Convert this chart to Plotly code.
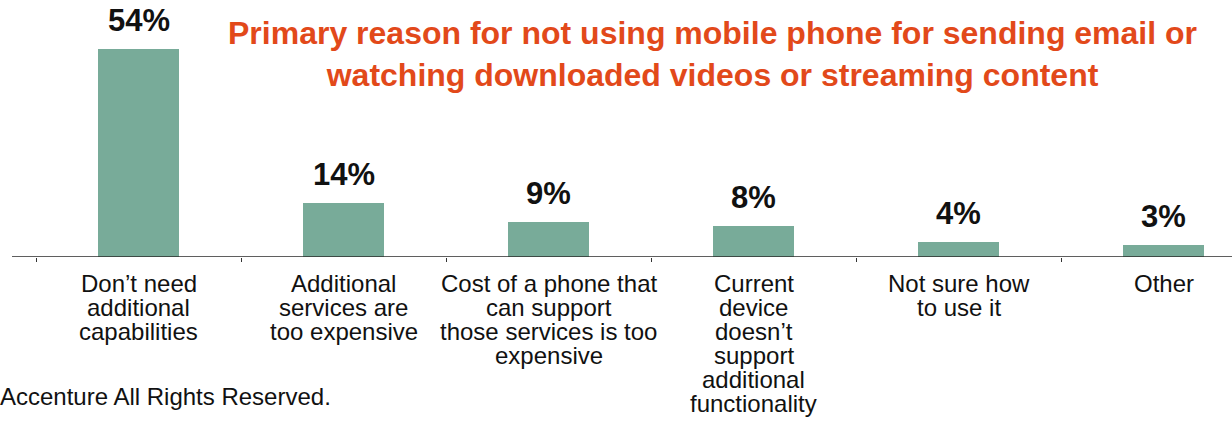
import plotly.graph_objects as go

# Survey results: primary reason for not using the phone for email / video
categories = [
    "Don’t need<br>additional<br>capabilities",
    "Additional<br>services are<br>too expensive",
    "Cost of a phone that<br>can support<br>those services is too<br>expensive",
    "Current<br>device<br>doesn’t<br>support<br>additional<br>functionality",
    "Not sure how<br>to use it",
    "Other",
]
shares = [54, 14, 9, 8, 4, 3]

title_text = ("Primary reason for not using mobile phone for sending email or<br>"
              "watching downloaded videos or streaming content")
footer = "Accenture All Rights Reserved."

W, H = 1232, 424
BASE_PX = 257          # pixel row of the value axis zero line
PX_PER_UNIT = 3.85     # vertical pixels per percentage point
CAT_PX = 205           # horizontal pixels per category
FIRST_PX = 138.5       # pixel centre of the first bar

FONT = "Arial, Liberation Sans, sans-serif"
BAR_COLOR = "#78AB99"
TITLE_COLOR = "#E2491A"

fig = go.Figure(
    go.Bar(
        x=categories,
        y=shares,
        marker=dict(color=BAR_COLOR, line=dict(width=0)),
        width=81 / CAT_PX,
        hoverinfo="skip",
    )
)

annotations = []

# value labels above each bar
for cat, v in zip(categories, shares):
    annotations.append(dict(
        x=cat, y=v, xref="x", yref="y", text=f"{v}%", showarrow=False,
        yanchor="bottom", yshift=9,
        font=dict(family=FONT, size=31, color="#111111", weight="bold"),
    ))

# category labels, one annotation per line for tight line spacing
LABEL_FIRST_BASELINE = 292
LABEL_LINE_STEP = 24
LABEL_SIZE = 24
for cat in categories:
    for i, line in enumerate(cat.split("<br>")):
        baseline = LABEL_FIRST_BASELINE + i * LABEL_LINE_STEP
        mid = baseline - 0.35 * LABEL_SIZE
        annotations.append(dict(
            x=cat, y=0, xref="x", yref="paper", text=line, showarrow=False,
            yanchor="middle", yshift=-(mid - BASE_PX), borderpad=0,
            font=dict(family=FONT, size=LABEL_SIZE, color="#111111"),
        ))

# two-line title
annotations.append(dict(
    x=712 / W, y=0, xref="paper", yref="paper", text=title_text, showarrow=False,
    xanchor="center", yanchor="top", yshift=BASE_PX - 13,
    font=dict(family=FONT, size=32, color=TITLE_COLOR, weight="bold"),
))

# footer note
annotations.append(dict(
    x=0, y=0, xref="paper", yref="paper", text=footer, showarrow=False,
    xanchor="left", yanchor="middle", xshift=-2,
    yshift=-(405 - 0.35 * 24 - BASE_PX),
    font=dict(family=FONT, size=24, color="#111111"),
))

fig.update_layout(
    width=W, height=H, autosize=False,
    margin=dict(l=0, r=0, t=0, b=H - BASE_PX, pad=0),
    paper_bgcolor="white", plot_bgcolor="white",
    showlegend=False,
    bargap=0,
    annotations=annotations,
    xaxis=dict(
        range=[-FIRST_PX / CAT_PX, (W - FIRST_PX) / CAT_PX],
        showgrid=False, zeroline=False, showline=False,
        showticklabels=False,
        ticks="outside", tickson="boundaries", ticklen=4,
        tickcolor="#333333", tickwidth=1,
        fixedrange=True,
    ),
    yaxis=dict(
        range=[0, BASE_PX / PX_PER_UNIT],
        visible=False, fixedrange=True,
    ),
    shapes=[dict(
        type="line", xref="paper", yref="y",
        x0=12 / W, x1=1, y0=0, y1=0,
        line=dict(color="#2a2a2a", width=1.6),
    )],
)

fig.write_html("out.html")
